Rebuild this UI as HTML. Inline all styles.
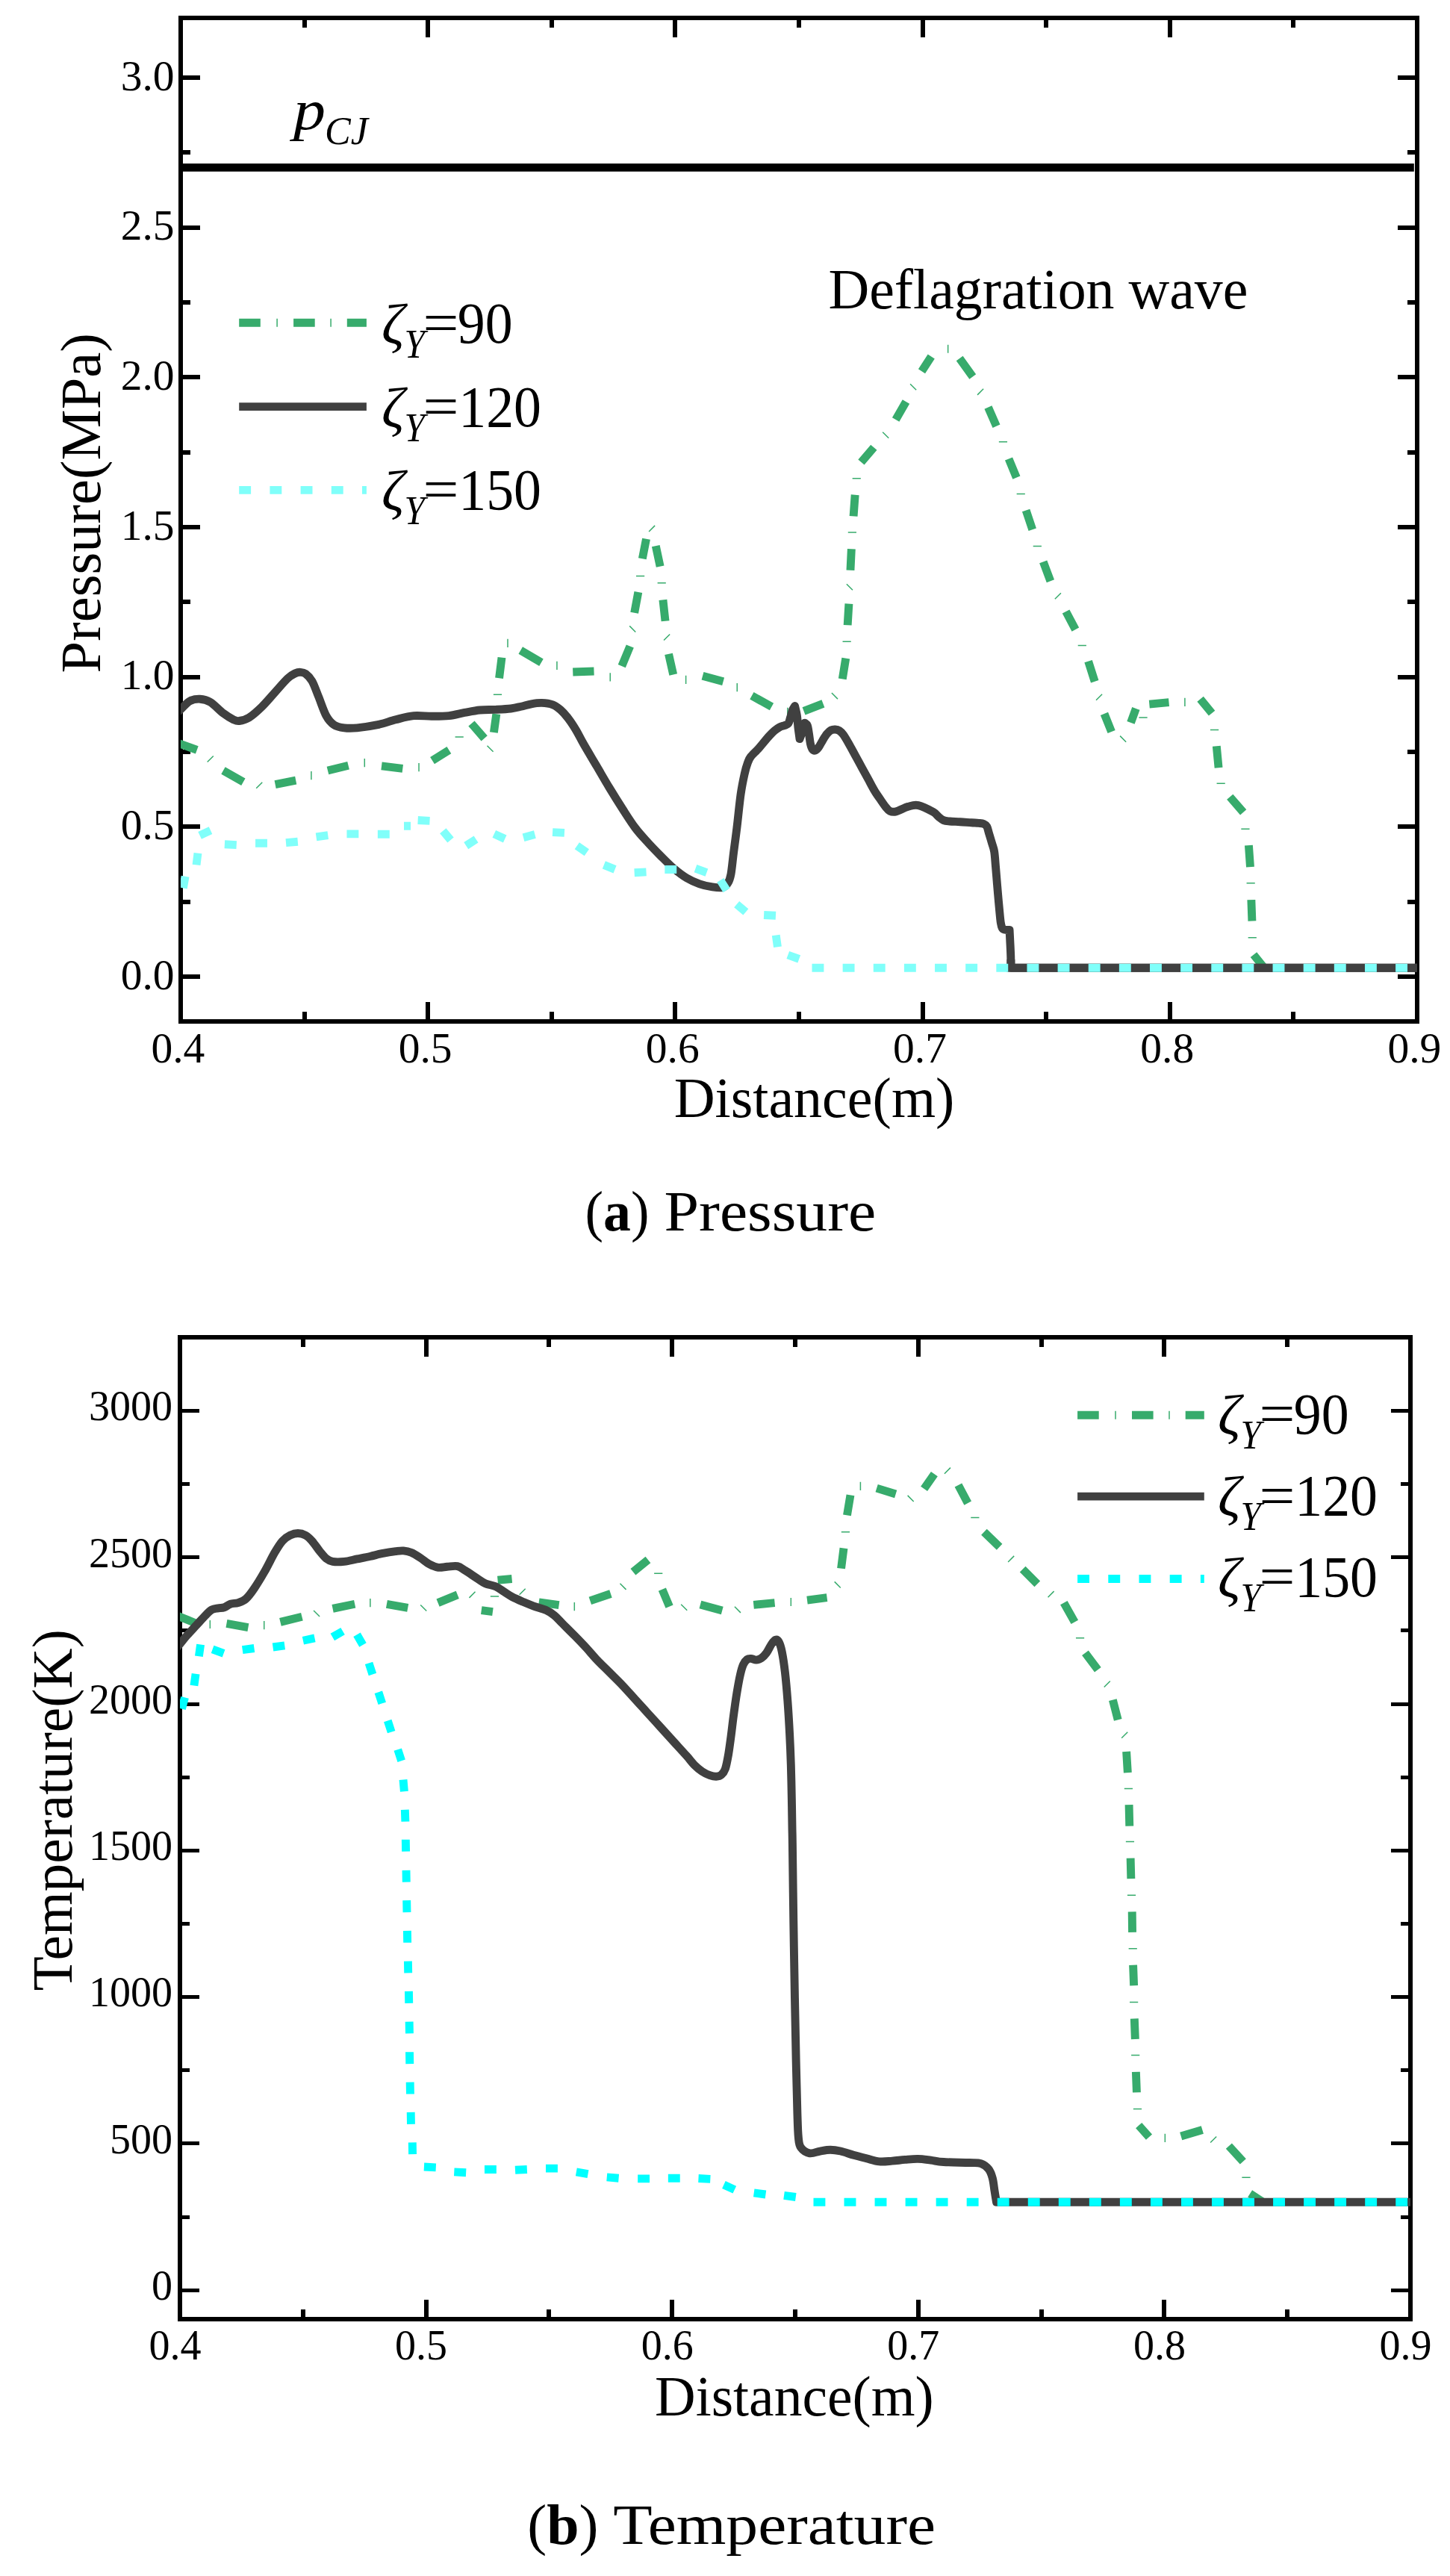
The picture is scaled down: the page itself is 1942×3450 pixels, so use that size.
<!DOCTYPE html>
<html lang="en"><head><meta charset="utf-8"><title>Pressure and temperature profiles</title>
<style>html,body{margin:0;padding:0;background:#fff}svg{display:block}text{font-family:"Liberation Serif",serif;fill:#000}.it{font-style:italic}.b{font-weight:bold}</style></head><body>
<svg width="1942" height="3450" viewBox="0 0 1942 3450">
<rect width="1942" height="3450" fill="#fff"/>
<g id="plot-a">
<rect x="242" y="24" width="1656" height="1344" fill="none" stroke="#000" stroke-width="6"/>
<path d="M573 24v26 M573 1368v-26M904 24v26 M904 1368v-26M1236 24v26 M1236 1368v-26M1567 24v26 M1567 1368v-26M408 24v13 M408 1368v-13M739 24v13 M739 1368v-13M1070 24v13 M1070 1368v-13M1401 24v13 M1401 1368v-13M1732 24v13 M1732 1368v-13" stroke="#000" stroke-width="6" fill="none"/>
<path d="M242 1308h26 M1898 1308h-26M242 1107h26 M1898 1107h-26M242 907h26 M1898 907h-26M242 706h26 M1898 706h-26M242 505h26 M1898 505h-26M242 305h26 M1898 305h-26M242 104h26 M1898 104h-26M242 1208h13 M1898 1208h-13M242 1007h13 M1898 1007h-13M242 806h13 M1898 806h-13M242 606h13 M1898 606h-13M242 405h13 M1898 405h-13M242 204h13 M1898 204h-13" stroke="#000" stroke-width="6" fill="none"/>
</g>
<text x="233.5" y="1324.8" font-size="57.5" text-anchor="end">0.0</text>
<text x="233.5" y="1124.13" font-size="57.5" text-anchor="end">0.5</text>
<text x="233.5" y="923.47" font-size="57.5" text-anchor="end">1.0</text>
<text x="233.5" y="722.8" font-size="57.5" text-anchor="end">1.5</text>
<text x="233.5" y="522.14" font-size="57.5" text-anchor="end">2.0</text>
<text x="233.5" y="321.48" font-size="57.5" text-anchor="end">2.5</text>
<text x="233.5" y="120.81" font-size="57.5" text-anchor="end">3.0</text>
<text x="238.4" y="1423" font-size="57.5" text-anchor="middle">0.4</text>
<text x="569.6" y="1423" font-size="57.5" text-anchor="middle">0.5</text>
<text x="900.8" y="1423" font-size="57.5" text-anchor="middle">0.6</text>
<text x="1232" y="1423" font-size="57.5" text-anchor="middle">0.7</text>
<text x="1563.2" y="1423" font-size="57.5" text-anchor="middle">0.8</text>
<text x="1894.4" y="1423" font-size="57.5" text-anchor="middle">0.9</text>
<text transform="translate(134 673.8) rotate(-90)" font-size="76.6" text-anchor="middle">Pressure(MPa)</text>
<text x="1090.5" y="1495.7" font-size="76" text-anchor="middle">Distance(m)</text>
<clipPath id="ca"><rect x="242" y="24" width="1656" height="1344"/></clipPath>
<g clip-path="url(#ca)">
<path d="M242.1 224.3H1893.8" stroke="#000" stroke-width="10.8" fill="none"/>
<path d="M235.17 994.03L263.79 1004.48M298.97 1032.07L325.86 1047.24M368.62 1050.69L396.21 1045.17M438.97 1032.07L466.55 1025.17M511.03 1025.86L539.31 1029.31M579.03 1018.62L601.38 1004.55M631.45 968.97L648.69 988.83M664.83 956.28L661.38 981.1M672 880.69L668.55 908.28M697.24 871.03L724.97 887.31M767.24 900L795.52 898.97M832.76 892.07L843.79 865.52M895.52 875.86L901.72 903.45M941.03 905.17L968.62 912.76M1006.9 931.72L1033.45 946.55M1076.55 952.41L1102.41 942.41M1128.28 909.31L1132.76 881.72M849.66 820.69L854.83 793.1M860.34 748.28L865.52 721.72M878.28 731.03L884.14 758.62M887.93 803.45L891.03 831.72M1135.17 837.24L1136.9 808.62M1138.97 763.79L1140.34 735.17M1143.1 691.38L1145.17 662.76M1153.45 618.97L1170.34 599.31M1199.66 562.07L1213.45 537.93M1234.48 497.24L1247.24 477.59M1285.17 480L1302.76 504.48M1323.45 545.52L1334.48 570.69M1351.03 614.48L1361.38 639.66M1374.14 683.45L1382.76 709.31M1397.24 752.41L1406.9 778.28M1427.59 818.97L1440.34 843.1M1457.59 885.52L1466.21 912.76M1478.97 955.86L1488.62 980M1514.48 967.93L1521.38 948.97M1539.31 943.1L1565.52 940.69M1607.59 936.21L1623.1 955.17M1629.31 999.31L1632.07 1028.28M1647.24 1067.24L1665.17 1087.93M1672.41 1132.07L1674.48 1161.03M1675.86 1205.17L1676.9 1233.45M1678.97 1278.62L1692.07 1294.83" stroke="#37AB6C" stroke-width="10.9" fill="none"/>
<path d="M277.69 1020.58L285.76 1012.52M343.21 1055.76L351.27 1047.69M416.9 1033.02L416.9 1044.22M488.28 1016.12L488.28 1027.32M561.03 1021.99L561.03 1033.19M609.57 986.9L620.77 986.9M652.52 998.73L660.58 1006.79M660.88 930.34L672.08 930.34M680 855.78L680 866.98M745.93 885.71L745.93 896.91M817.24 901.3L817.24 912.5M918.62 904.74L918.62 915.94M987.24 915.09L987.24 926.29M1054.83 947.85L1054.83 959.05M1113.9 928.04L1121.96 936.1M1128.54 859.31L1139.74 859.31M843.21 838.38L851.27 846.45M851.99 771.38L863.19 771.38M869.07 711.96L877.14 703.9M880.61 780.69L891.81 780.69M889.07 857.48L897.14 849.42M1133.9 782.17L1141.96 790.24M1135.78 713.1L1146.98 713.1M1141.64 640.69L1152.84 640.69M1182.17 578.73L1190.24 586.79M1219.07 514.24L1227.14 522.31M1269.66 461.64L1269.66 472.84M1309.07 528.86L1317.14 520.8M1337.85 591.72L1349.05 591.72M1361.64 661.38L1372.84 661.38M1383.71 731.38L1394.91 731.38M1412.86 802.31L1420.93 794.24M1443.71 864.48L1454.91 864.48M1443.71 864.48L1454.91 864.48M1468.04 937.83L1476.1 929.76M1500.11 985.62L1508.17 993.69M1525.43 961.03L1536.63 961.03M1586.9 934.74L1586.9 945.94M1620.95 977.59L1632.15 977.59M1629.57 1049.31L1640.77 1049.31M1662.33 1110.34L1673.53 1110.34M1669.57 1182.76L1680.77 1182.76M1671.64 1255.86L1682.84 1255.86" stroke="#37AB6C" stroke-width="1.5" fill="none"/>
<path d="M230 961C232.01 959.17 238.05 953.67 242.07 950C246.09 946.33 249.83 941.27 254.14 938.97C258.45 936.67 263.33 935.98 267.93 936.21C272.53 936.44 276.55 937.18 281.72 940.34C286.89 943.5 293.8 951.26 298.97 955.17C304.14 959.08 309.2 962.06 312.76 963.79C316.32 965.51 316.89 965.98 320.34 965.52C323.79 965.06 328.39 964.19 333.45 961.03C338.51 957.87 344.94 952.12 350.69 946.55C356.44 940.98 362.18 933.91 367.93 927.59C373.68 921.27 380.57 912.93 385.17 908.62C389.77 904.31 392.65 903.1 395.52 901.72C398.39 900.34 400.11 900.23 402.41 900.34C404.71 900.46 406.72 900.45 409.31 902.41C411.9 904.37 415.06 907.01 417.93 912.07C420.8 917.13 423.39 925 426.55 932.76C429.71 940.52 433.45 952.3 436.9 958.62C440.35 964.94 443.22 967.99 447.24 970.69C451.26 973.39 455.86 974.14 461.03 974.83C466.2 975.52 470.81 975.52 478.28 974.83C485.75 974.14 497.24 972.53 505.86 970.69C514.48 968.85 521.95 965.8 530 963.79C538.05 961.78 546.15 959.37 554.14 958.62C562.13 957.87 570.06 959.31 577.93 959.31C585.8 959.31 594.02 959.42 601.38 958.62C608.74 957.82 615.17 955.75 622.07 954.48C628.97 953.22 635.86 951.72 642.76 951.03C649.66 950.34 656.55 950.68 663.45 950.34C670.35 950 678.39 949.66 684.14 948.97C689.89 948.28 693.33 947.25 697.93 946.21C702.53 945.18 707.12 943.57 711.72 942.76C716.32 941.95 720.75 941.21 725.52 941.38C730.29 941.55 736.14 942.24 740.34 943.79C744.54 945.34 747.24 947.64 750.69 950.69C754.14 953.74 757.58 957.59 761.03 962.07C764.48 966.55 767.93 971.84 771.38 977.59C774.83 983.34 777.12 988.5 781.72 996.55C786.32 1004.59 793.22 1016.09 798.97 1025.86C804.72 1035.63 810.46 1045.69 816.21 1055.17C821.96 1064.65 827.7 1073.85 833.45 1082.76C839.2 1091.67 844.94 1100.98 850.69 1108.62C856.44 1116.26 862.18 1122.3 867.93 1128.62C873.68 1134.94 879.42 1140.8 885.17 1146.55C890.92 1152.3 896.66 1158.21 902.41 1163.1C908.16 1167.98 913.91 1172.41 919.66 1175.86C925.41 1179.31 931.15 1181.78 936.9 1183.79C942.65 1185.8 948.97 1187.12 954.14 1187.93C959.31 1188.74 964.48 1189.48 967.93 1188.62C971.38 1187.76 972.99 1185.75 974.83 1182.76C976.67 1179.77 977.71 1177.3 978.97 1170.69C980.23 1164.08 981.09 1153.44 982.41 1143.1C983.73 1132.75 985.29 1121.84 986.9 1108.62C988.51 1095.4 990.35 1075.86 992.07 1063.79C993.79 1051.72 995.69 1043.22 997.24 1036.21C998.79 1029.2 1000.02 1025.5 1001.4 1021.7C1002.78 1017.9 1003.21 1016.44 1005.5 1013.4C1007.79 1010.36 1012.41 1006.49 1015.17 1003.45C1017.93 1000.41 1019.54 998.16 1022.07 995.17C1024.6 992.18 1027.81 988.28 1030.34 985.52C1032.87 982.76 1034.94 980.58 1037.24 978.62C1039.54 976.66 1041.84 974.98 1044.14 973.79C1046.44 972.6 1049.08 972.25 1051.03 971.45C1052.98 970.65 1054.59 970.76 1055.86 968.97C1057.12 967.18 1057.7 963.68 1058.62 960.69C1059.54 957.7 1060.39 953.56 1061.38 951.03C1062.37 948.5 1064.02 946.44 1064.55 945.52C1065.01 947.59 1066.57 953.1 1067.31 957.93C1068.05 962.76 1068.35 969.19 1068.97 974.48C1069.59 979.77 1070.69 987.13 1071.03 989.66C1071.61 988.05 1073.33 983.59 1074.48 980C1075.63 976.41 1077.36 970.12 1077.93 968.14C1078.51 968.74 1080.46 969.28 1081.38 971.72C1082.3 974.16 1082.76 978.62 1083.45 982.76C1084.14 986.9 1084.71 993.06 1085.52 996.55C1086.33 1000.04 1087.13 1002.34 1088.28 1003.72C1089.43 1005.1 1091.03 1005.34 1092.41 1004.83C1093.79 1004.33 1094.94 1002.99 1096.55 1000.69C1098.16 998.39 1100.23 994.02 1102.07 991.03C1103.91 988.04 1105.75 984.94 1107.59 982.76C1109.43 980.58 1111.26 978.89 1113.1 977.93C1114.94 976.96 1116.78 976.86 1118.62 976.97C1120.46 977.09 1122.3 977.42 1124.14 978.62C1125.98 979.82 1127.36 980.92 1129.66 984.14C1131.96 987.36 1135.17 993.1 1137.93 997.93C1140.69 1002.76 1143.45 1008.04 1146.21 1013.1C1148.97 1018.16 1151.72 1023.22 1154.48 1028.28C1157.24 1033.34 1160 1038.39 1162.76 1043.45C1165.52 1048.51 1168.27 1054.02 1171.03 1058.62C1173.79 1063.22 1176.78 1067.35 1179.31 1071.03C1181.84 1074.71 1184.14 1078.16 1186.21 1080.69C1188.28 1083.22 1189.42 1085.17 1191.72 1086.21C1194.02 1087.25 1195.92 1087.88 1200 1086.9C1204.08 1085.92 1211.21 1081.72 1216.21 1080.34C1221.21 1078.96 1224.37 1077.41 1230 1078.62C1235.63 1079.83 1245.52 1085.06 1250 1087.59C1254.48 1090.12 1254.6 1091.95 1256.9 1093.79C1259.2 1095.63 1261.26 1097.58 1263.79 1098.62C1266.32 1099.65 1268.39 1099.65 1272.07 1100C1275.75 1100.35 1281.03 1100.39 1285.86 1100.69C1290.69 1100.99 1296.89 1101.51 1301.03 1101.79C1305.17 1102.07 1307.93 1102.06 1310.69 1102.34C1313.45 1102.62 1315.75 1102.69 1317.59 1103.45C1319.43 1104.21 1320.57 1104.83 1321.72 1106.9C1322.87 1108.97 1323.33 1112.07 1324.48 1115.86C1325.63 1119.65 1327.42 1125.52 1328.62 1129.66C1329.82 1133.8 1330.86 1135.63 1331.66 1140.69C1332.47 1145.75 1332.81 1152.64 1333.45 1160C1334.09 1167.36 1334.9 1177.47 1335.52 1184.83C1336.14 1192.19 1336.6 1197.7 1337.17 1204.14C1337.75 1210.58 1338.44 1218.16 1338.97 1223.45C1339.5 1228.74 1339.81 1232.64 1340.34 1235.86C1340.87 1239.08 1341.34 1241.22 1342.14 1242.76C1342.95 1244.3 1343.52 1244.64 1345.17 1245.1C1346.83 1245.56 1350.92 1245.45 1352.07 1245.52C1352.18 1247.82 1352.48 1253.56 1352.76 1259.31C1353.04 1265.06 1353.53 1273.85 1353.72 1280C1353.91 1286.15 1353.87 1293.5 1353.9 1296.2L1898 1296.2" stroke="#404040" stroke-width="10.9" fill="none" stroke-linejoin="round"/>
<path d="M1353.9 1285V1296.2H1898" stroke="#404040" stroke-width="10.9" fill="none" stroke-linejoin="miter"/>
<path d="M245.32 1189.43L248.08 1173.77M263.03 1158.39L264.97 1142.61M267.59 1118.86L282.01 1112.14M300.86 1130.78L316.74 1131.62M342.05 1129.3L357.95 1129.3M382.98 1128.59L398.82 1127.21M423.53 1120.91L439.27 1118.69M464.45 1116.9L480.35 1116.9M505.85 1117.3L521.75 1117.3M541 1106.3L550 1106.3M559.66 1098.48L575.54 1099.32M593.29 1112.71L603.51 1124.89M624.23 1132.63L637.57 1123.97M661.79 1116.84L676.21 1123.56M701.02 1121.66L716.38 1117.54M740.06 1114.58L755.94 1115.42M772.8 1132.68L785.82 1141.8M808.84 1158.4L823.58 1164.36M849.65 1168.7L865.53 1167.86M890.33 1164.48L906.23 1164.48M931.5 1163.14L946.44 1168.58M964.76 1178.78L973.18 1192.26M986.67 1211.1L998.85 1221.32M1023.09 1225.44L1038.97 1226.28M1039.23 1252.47L1041.45 1268.21M1055.29 1279L1070.23 1284.44M1087.5 1296.2L1103.4 1296.2M1128.64 1296.2L1144.54 1296.2M1169.77 1296.2L1185.67 1296.2M1210.91 1296.2L1226.81 1296.2M1252.05 1296.2L1267.95 1296.2M1293.18 1296.2L1309.08 1296.2M1334.32 1296.2L1350.22 1296.2M1375.46 1296.2L1391.36 1296.2M1416.6 1296.2L1432.5 1296.2M1457.73 1296.2L1473.63 1296.2M1498.87 1296.2L1514.77 1296.2M1540.01 1296.2L1555.91 1296.2M1581.14 1296.2L1597.04 1296.2M1622.28 1296.2L1638.18 1296.2M1663.42 1296.2L1679.32 1296.2M1704.55 1296.2L1720.45 1296.2M1745.69 1296.2L1761.59 1296.2M1786.83 1296.2L1802.73 1296.2M1827.97 1296.2L1843.87 1296.2M1869.1 1296.2L1885 1296.2" stroke="#80FFFA" stroke-width="10.9" fill="none"/>
</g>
<path d="M320.2 432.3H348.8M393.1 432.3H421.7M464.8 432.3H490.9" stroke="#37AB6C" stroke-width="10.9" fill="none"/>
<path d="M371.1 426.8v11M443.1 426.8v11" stroke="#37AB6C" stroke-width="1.5" fill="none"/>
<path d="M320.2 544.6H490.9" stroke="#404040" stroke-width="10.9" fill="none"/>
<path d="M320.2 656.4H336.1M361.4 656.4H377.3M402.6 656.4H418.5M443.8 656.4H459.7M485 656.4H490.9" stroke="#80FFFA" stroke-width="10.9" fill="none"/>
<text x="511" y="459.5" font-size="76" class="it">ζ</text>
<text x="541.5" y="478.7" font-size="54" class="it" textLength="27.5" lengthAdjust="spacingAndGlyphs">Y</text>
<text x="566.5" y="458" font-size="76" textLength="48" lengthAdjust="spacingAndGlyphs">=</text>
<text x="612.8" y="458.8" font-size="78.2" textLength="73.8" lengthAdjust="spacingAndGlyphs">90</text>
<text x="511" y="571.5" font-size="76" class="it">ζ</text>
<text x="541.5" y="590.7" font-size="54" class="it" textLength="27.5" lengthAdjust="spacingAndGlyphs">Y</text>
<text x="566.5" y="570" font-size="76" textLength="48" lengthAdjust="spacingAndGlyphs">=</text>
<text x="614.3" y="570.8" font-size="78.2" textLength="110.7" lengthAdjust="spacingAndGlyphs">120</text>
<text x="511" y="682.6" font-size="76" class="it">ζ</text>
<text x="541.5" y="701.8" font-size="54" class="it" textLength="27.5" lengthAdjust="spacingAndGlyphs">Y</text>
<text x="566.5" y="681.1" font-size="76" textLength="48" lengthAdjust="spacingAndGlyphs">=</text>
<text x="614.3" y="681.9" font-size="78.2" textLength="110.7" lengthAdjust="spacingAndGlyphs">150</text>
<text x="393" y="172.8" font-size="76" class="it" textLength="43" lengthAdjust="spacingAndGlyphs">p</text>
<text x="435" y="192.5" font-size="52" class="it">CJ</text>
<text x="1390.4" y="413.2" font-size="75.8" text-anchor="middle">Deflagration wave</text>
<text x="783.5" y="1647.6" font-size="77" textLength="86" lengthAdjust="spacingAndGlyphs">(<tspan class="b">a</tspan>)</text>
<text x="889.5" y="1647.6" font-size="77" textLength="283.7" lengthAdjust="spacingAndGlyphs">Pressure</text>
<g id="plot-b">
<rect x="241" y="1791" width="1648" height="1315" fill="none" stroke="#000" stroke-width="6"/>
<path d="M571 1791v26 M571 3106v-26M900 1791v26 M900 3106v-26M1230 1791v26 M1230 3106v-26M1559 1791v26 M1559 3106v-26M406 1791v13 M406 3106v-13M735 1791v13 M735 3106v-13M1065 1791v13 M1065 3106v-13M1395 1791v13 M1395 3106v-13M1724 1791v13 M1724 3106v-13" stroke="#000" stroke-width="6" fill="none"/>
<path d="M241 3067.5h26 M1889 3067.5h-26M241 2870.5h26 M1889 2870.5h-26M241 2674.5h26 M1889 2674.5h-26M241 2478.5h26 M1889 2478.5h-26M241 2282.5h26 M1889 2282.5h-26M241 2085.5h26 M1889 2085.5h-26M241 1889.5h26 M1889 1889.5h-26M241 2969.5h13 M1889 2969.5h-13M241 2772.5h13 M1889 2772.5h-13M241 2576.5h13 M1889 2576.5h-13M241 2380.5h13 M1889 2380.5h-13M241 2183.5h13 M1889 2183.5h-13M241 1987.5h13 M1889 1987.5h-13" stroke="#000" stroke-width="5" fill="none"/>
</g>
<text x="231" y="3080.1" font-size="56" text-anchor="end">0</text>
<text x="231" y="2883.79" font-size="56" text-anchor="end">500</text>
<text x="231" y="2687.47" font-size="56" text-anchor="end">1000</text>
<text x="231" y="2491.16" font-size="56" text-anchor="end">1500</text>
<text x="231" y="2294.84" font-size="56" text-anchor="end">2000</text>
<text x="231" y="2098.53" font-size="56" text-anchor="end">2500</text>
<text x="231" y="1902.21" font-size="56" text-anchor="end">3000</text>
<text x="234.5" y="3160" font-size="56" text-anchor="middle">0.4</text>
<text x="564.1" y="3160" font-size="56" text-anchor="middle">0.5</text>
<text x="893.7" y="3160" font-size="56" text-anchor="middle">0.6</text>
<text x="1223.3" y="3160" font-size="56" text-anchor="middle">0.7</text>
<text x="1552.9" y="3160" font-size="56" text-anchor="middle">0.8</text>
<text x="1882.5" y="3160" font-size="56" text-anchor="middle">0.9</text>
<text transform="translate(95.9 2424.2) rotate(-90)" font-size="75.3" text-anchor="middle">Temperature(K)</text>
<text x="1063.9" y="3234.7" font-size="75.6" text-anchor="middle">Distance(m)</text>
<clipPath id="cb"><rect x="241" y="1791" width="1648" height="1315"/></clipPath>
<g clip-path="url(#cb)">
<path d="M235.17 2163.1L261.03 2173.45M303.45 2174.48L332.41 2179.66M375.45 2172.41L404.41 2165.17M445.59 2154.41L475.17 2148.21M517.93 2148.28L546.21 2153.45M586.55 2146.62L612.76 2135.86M644.76 2156.55L659.93 2158.62M666.55 2116.28L685.59 2114.48M721.72 2145.79L748.62 2149.66M790.34 2143.79L817.93 2134.48M847.93 2105.17L867.93 2088.97M886.9 2128.62L896.55 2151.72M937.93 2148.97L967.24 2156.9M1009.31 2149.31L1037.59 2146.55M1081.03 2143.1L1107.59 2139.66M1126.55 2100.69L1130 2073.45M1134.48 2029.31L1138.97 2002.41M1174.14 1993.1L1199.66 2001.03M1237.59 1993.79L1251.38 1974.14M1283.45 1988.97L1296.21 2013.1M1317.93 2051.72L1338.62 2071.72M1369.66 2101.72L1389.31 2121.38M1424.83 2146.55L1439.31 2172.41M1453.45 2213.79L1470.34 2236.21M1490.34 2276.55L1497.24 2303.45M1508.62 2345.86L1510.34 2374.14M1512.07 2417.24L1512.76 2445.52M1514.14 2488.62L1514.83 2516.21M1516.21 2560.34L1516.55 2587.93M1517.59 2631.72L1518.62 2659.31M1519.31 2703.45L1520.34 2731.03M1521.38 2774.83L1522.41 2802.41M1525.17 2846.55L1538.97 2862.07M1581.72 2861.03L1610.34 2852.41M1645.86 2874.14L1664.83 2894.83M1674.14 2937.93L1691.38 2948.97" stroke="#37AB6C" stroke-width="10.9" fill="none"/>
<path d="M281.31 2169.92L281.31 2181.12M353.72 2170.95L353.72 2182.15M420.04 2157L428.1 2165.07M495.86 2140.95L495.86 2152.15M563.21 2149.42L571.27 2157.48M628.45 2139.89L636.51 2131.83M656.81 2137.93L668.01 2137.93M695.62 2135.76L703.69 2127.69M769.31 2146.12L769.31 2157.32M830.45 2120.8L838.51 2128.86M876.12 2107.24L887.32 2107.24M912.17 2148.73L920.24 2156.79M983.9 2151.83L991.96 2159.89M1059.31 2139.92L1059.31 2151.12M1117.69 2118.38L1125.76 2126.45M1126.81 2051.72L1138.01 2051.72M1152.41 1984.74L1152.41 1995.94M1215.62 2002.86L1223.69 2010.93M1264.93 1973.69L1273 1965.62M1300.26 2032.41L1311.46 2032.41M1350.11 2091.96L1358.17 2083.9M1403.55 2139.2L1411.62 2131.14M1440.95 2193.79L1452.15 2193.79M1478.73 2259.55L1486.79 2251.49M1502.17 2327.83L1510.24 2319.76M1505.78 2395.52L1516.98 2395.52M1507.85 2466.55L1519.05 2466.55M1509.92 2538.28L1521.12 2538.28M1511.64 2609.66L1522.84 2609.66M1513.02 2681.38L1524.22 2681.38M1515.09 2752.41L1526.29 2752.41M1517.85 2824.48L1529.05 2824.48M1560.34 2857.85L1560.34 2869.05M1621.14 2869.55L1629.2 2861.49M1663.37 2916.21L1674.57 2916.21" stroke="#37AB6C" stroke-width="1.5" fill="none"/>
<path d="M231.3 2213.6C232.91 2211.63 237.74 2205.72 240.97 2201.79C244.2 2197.86 247 2194.21 250.69 2190C254.38 2185.79 258.96 2181.03 263.1 2176.55C267.24 2172.07 272.07 2166.55 275.52 2163.1C278.97 2159.65 281.03 2157.41 283.79 2155.86C286.55 2154.31 289.31 2154.31 292.07 2153.79C294.83 2153.27 297.59 2153.69 300.35 2152.76C303.11 2151.83 305.52 2149.24 308.62 2148.21C311.72 2147.18 315.52 2147.69 318.97 2146.55C322.42 2145.41 325.75 2144.54 329.31 2141.38C332.87 2138.22 336.2 2133.62 340.34 2127.59C344.48 2121.56 349.54 2113.22 354.14 2105.17C358.74 2097.12 363.91 2086.21 367.93 2079.31C371.95 2072.41 374.83 2067.64 378.28 2063.79C381.73 2059.94 385.17 2057.93 388.62 2056.21C392.07 2054.49 395.52 2053.45 398.97 2053.45C402.42 2053.45 406.15 2054.49 409.31 2056.21C412.47 2057.93 414.77 2060.23 417.93 2063.79C421.09 2067.35 425.12 2073.68 428.28 2077.59C431.44 2081.5 434.03 2084.94 436.9 2087.24C439.77 2089.54 441.5 2090.69 445.52 2091.38C449.54 2092.07 455.57 2091.95 461.03 2091.38C466.49 2090.81 472.53 2089.08 478.28 2087.93C484.03 2086.78 489.77 2085.74 495.52 2084.48C501.27 2083.22 507.01 2081.49 512.76 2080.34C518.51 2079.19 525.4 2078.16 530 2077.59C534.6 2077.02 536.89 2076.61 540.34 2076.9C543.79 2077.19 546.95 2077.76 550.69 2079.31C554.43 2080.86 558.74 2083.62 562.76 2086.21C566.78 2088.8 570.81 2092.65 574.83 2094.83C578.85 2097.01 582.88 2098.73 586.9 2099.31C590.92 2099.89 594.66 2098.57 598.97 2098.28C603.28 2097.99 608.74 2096.73 612.76 2097.59C616.78 2098.45 618.73 2100.75 623.1 2103.45C627.47 2106.15 634.49 2110.92 638.97 2113.79C643.45 2116.66 645.86 2118.85 650 2120.69C654.14 2122.53 659.65 2122.99 663.79 2124.83C667.93 2126.67 671.15 2129.42 674.83 2131.72C678.51 2134.02 681.49 2136.32 685.86 2138.62C690.23 2140.92 696.2 2143.45 701.03 2145.52C705.86 2147.59 709.77 2149.19 714.83 2151.03C719.89 2152.87 726.78 2154.48 731.38 2156.55C735.98 2158.62 738.73 2160.46 742.41 2163.45C746.09 2166.44 748.85 2169.88 753.45 2174.48C758.05 2179.08 764.71 2185.63 770 2191.03C775.29 2196.43 780.34 2201.67 785.17 2206.9C790 2212.13 793.8 2216.95 798.97 2222.41C804.14 2227.87 810.46 2233.91 816.21 2239.66C821.96 2245.41 827.7 2250.87 833.45 2256.9C839.2 2262.93 844.94 2269.54 850.69 2275.86C856.44 2282.18 862.18 2288.51 867.93 2294.83C873.68 2301.15 879.42 2307.47 885.17 2313.79C890.92 2320.11 896.66 2326.44 902.41 2332.76C908.16 2339.08 915.06 2346.55 919.66 2351.72C924.26 2356.89 926.55 2360.34 930 2363.79C933.45 2367.24 936.89 2370.11 940.34 2372.41C943.79 2374.71 947.53 2376.44 950.69 2377.59C953.85 2378.74 956.72 2379.43 959.31 2379.31C961.9 2379.19 964.2 2378.62 966.21 2376.9C968.22 2375.18 969.83 2373.45 971.38 2368.97C972.93 2364.49 974.25 2357.18 975.52 2350C976.78 2342.82 977.82 2334.48 978.97 2325.86C980.12 2317.24 981.09 2308.05 982.41 2298.28C983.73 2288.51 985.4 2276.44 986.9 2267.24C988.39 2258.04 989.94 2249.42 991.38 2243.1C992.82 2236.78 993.97 2232.76 995.52 2229.31C997.07 2225.86 998.97 2223.73 1000.69 2222.41C1002.41 2221.09 1003.85 2221.27 1005.86 2221.38C1007.87 2221.49 1010.46 2223.22 1012.76 2223.1C1015.06 2222.98 1017.36 2222.24 1019.66 2220.69C1021.96 2219.14 1024.25 2216.95 1026.55 2213.79C1028.85 2210.63 1031.44 2204.65 1033.45 2201.72C1035.46 2198.79 1037.01 2196.67 1038.62 2196.21C1040.23 2195.75 1041.66 2196.33 1043.1 2198.97C1044.54 2201.61 1045.86 2205.29 1047.24 2212.07C1048.62 2218.85 1050.12 2228.74 1051.38 2239.66C1052.64 2250.58 1053.8 2263.8 1054.83 2277.59C1055.86 2291.38 1056.84 2308.04 1057.59 2322.41C1058.34 2336.78 1058.85 2349.42 1059.31 2363.79C1059.77 2378.16 1060.05 2394.25 1060.34 2408.62C1060.63 2422.99 1060.86 2439.94 1061.03 2450C1061.2 2460.06 1061.09 2448.57 1061.38 2468.97C1061.67 2489.37 1062.24 2537.93 1062.76 2572.41C1063.28 2606.89 1063.9 2644.25 1064.48 2675.86C1065.06 2707.47 1065.63 2736.21 1066.21 2762.07C1066.79 2787.93 1067.41 2814.36 1067.93 2831.03C1068.45 2847.7 1068.56 2854.6 1069.31 2862.07C1070.06 2869.54 1069.88 2872.24 1072.41 2875.86C1074.94 2879.48 1080.17 2882.93 1084.48 2883.79C1088.79 2884.65 1093.68 2881.78 1098.28 2881.03C1102.88 2880.28 1107.47 2879.31 1112.07 2879.31C1116.67 2879.31 1120.69 2879.88 1125.86 2881.03C1131.03 2882.18 1137.35 2884.6 1143.1 2886.21C1148.85 2887.82 1154.59 2889.25 1160.34 2890.69C1166.09 2892.13 1171.84 2894.26 1177.59 2894.83C1183.34 2895.4 1189.08 2894.54 1194.83 2894.14C1200.58 2893.74 1206.32 2892.87 1212.07 2892.41C1217.82 2891.95 1223.56 2891.27 1229.31 2891.38C1235.06 2891.49 1240.8 2892.41 1246.55 2893.1C1252.3 2893.79 1255.17 2894.94 1263.79 2895.52C1272.41 2896.1 1289.95 2896.2 1298.28 2896.55C1306.61 2896.9 1309.48 2896.15 1313.79 2897.59C1318.1 2899.03 1321.55 2901.89 1324.14 2905.17C1326.73 2908.45 1327.99 2912.35 1329.31 2917.24C1330.63 2922.12 1331.2 2929.14 1332.07 2934.48C1332.93 2939.82 1334.1 2946.83 1334.5 2949.3L1889.1 2949.3" stroke="#404040" stroke-width="10.9" fill="none" stroke-linejoin="round"/>
<path d="M243.44 2288.68L247.56 2273.32M259.89 2257.47L262.11 2241.73M266.39 2218.17L268.61 2202.43M284.63 2208.98L299.57 2214.42M324.73 2209.71L340.47 2207.49M365.53 2206.01L381.27 2203.79M405.92 2197.25L421.48 2193.95M445.32 2192.57L459.08 2184.62M478.02 2189.32L485.98 2203.08M494.04 2227.34L498.96 2242.46M506.84 2266.24L511.76 2281.36M519.24 2304.54L524.16 2319.66M532.74 2343.14L537.66 2358.26M540.01 2383.48L541.39 2399.32M542.32 2423.75L542.88 2439.65M543.31 2463.77L543.59 2479.67M544 2504.81L544.28 2520.71M544.69 2545.15L544.97 2561.05M545.38 2585.84L545.66 2601.74M546.41 2626.53L546.69 2642.43M547.45 2666.88L547.73 2682.78M548.14 2707.57L548.42 2723.47M548.48 2748.26L548.76 2764.16M549.17 2788.6L549.45 2804.5M550.2 2828.95L550.48 2844.85M552.27 2869.29L552.55 2885.19M567.92 2901.99L583.8 2902.83M608.27 2908.89L624.15 2909.73M648.95 2905.52L664.85 2905.52M689.99 2906.28L705.87 2905.44M731.02 2904.14L746.92 2904.14M771.83 2908.96L787.49 2911.72M812.77 2915.86L828.61 2917.24M854.15 2917.9L870.05 2917.9M894.85 2917.2L910.75 2917.2M935.46 2917.48L951.34 2918.32M969.39 2925.94L983.81 2932.66M1009.73 2936.79L1025.47 2939.01M1050.03 2940.29L1065.77 2942.51M1089.49 2949.3L1105.39 2949.3M1130.53 2949.3L1146.43 2949.3M1171.57 2949.3L1187.47 2949.3M1212.61 2949.3L1228.51 2949.3M1253.65 2949.3L1269.55 2949.3M1294.69 2949.3L1310.59 2949.3M1335.73 2949.3L1351.63 2949.3M1376.77 2949.3L1392.67 2949.3M1417.81 2949.3L1433.71 2949.3M1458.85 2949.3L1474.75 2949.3M1499.89 2949.3L1515.79 2949.3M1540.93 2949.3L1556.83 2949.3M1581.97 2949.3L1597.87 2949.3M1623.01 2949.3L1638.91 2949.3M1664.05 2949.3L1679.95 2949.3M1705.09 2949.3L1720.99 2949.3M1746.13 2949.3L1762.03 2949.3M1787.17 2949.3L1803.07 2949.3M1828.21 2949.3L1844.11 2949.3M1869.25 2949.3L1885.15 2949.3" stroke="#00FFFF" stroke-width="10.9" fill="none"/>
</g>
<path d="M1443.1 1895.2H1471.7M1516 1895.2H1544.6M1587.7 1895.2H1612.8" stroke="#37AB6C" stroke-width="10.9" fill="none"/>
<path d="M1494 1889.7v11M1566 1889.7v11" stroke="#37AB6C" stroke-width="1.5" fill="none"/>
<path d="M1443.1 2004.1H1612.8" stroke="#404040" stroke-width="10.9" fill="none"/>
<path d="M1443.1 2114.5H1459M1484.3 2114.5H1500.2M1525.5 2114.5H1541.4M1566.7 2114.5H1582.6M1607.9 2114.5H1612.8" stroke="#00FFFF" stroke-width="10.9" fill="none"/>
<text x="1631" y="1920.7" font-size="76" class="it">ζ</text>
<text x="1661.5" y="1939.9" font-size="54" class="it" textLength="27.5" lengthAdjust="spacingAndGlyphs">Y</text>
<text x="1686.5" y="1919.2" font-size="76" textLength="48" lengthAdjust="spacingAndGlyphs">=</text>
<text x="1732.8" y="1920" font-size="78.2" textLength="73.8" lengthAdjust="spacingAndGlyphs">90</text>
<text x="1631" y="2030" font-size="76" class="it">ζ</text>
<text x="1661.5" y="2049.2" font-size="54" class="it" textLength="27.5" lengthAdjust="spacingAndGlyphs">Y</text>
<text x="1686.5" y="2028.5" font-size="76" textLength="48" lengthAdjust="spacingAndGlyphs">=</text>
<text x="1734.3" y="2029.3" font-size="78.2" textLength="110.7" lengthAdjust="spacingAndGlyphs">120</text>
<text x="1631" y="2138.7" font-size="76" class="it">ζ</text>
<text x="1661.5" y="2157.9" font-size="54" class="it" textLength="27.5" lengthAdjust="spacingAndGlyphs">Y</text>
<text x="1686.5" y="2137.2" font-size="76" textLength="48" lengthAdjust="spacingAndGlyphs">=</text>
<text x="1734.3" y="2138" font-size="78.2" textLength="110.7" lengthAdjust="spacingAndGlyphs">150</text>
<text x="706.3" y="3406.8" font-size="77" textLength="95.2" lengthAdjust="spacingAndGlyphs">(<tspan class="b">b</tspan>)</text>
<text x="821.3" y="3406.8" font-size="77" textLength="431.7" lengthAdjust="spacingAndGlyphs">Temperature</text>
</svg></body></html>
